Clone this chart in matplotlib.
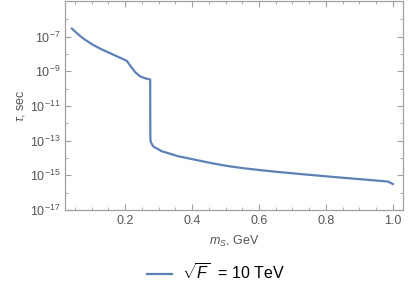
"""
Lifetime of the scalar versus its mass, sqrt(F) = 10 TeV.
"""

import numpy as np
import matplotlib
matplotlib.use("Agg")
import matplotlib.pyplot as plt
from matplotlib.ticker import FixedLocator, NullFormatter

M_S = [0.041, 0.055, 0.066, 0.080, 0.105, 0.130, 0.155, 0.180, 0.205,
       0.215, 0.230, 0.245, 0.260, 0.275,
       0.2752, 0.2755, 0.2765, 0.2797, 0.2845, 0.3096, 0.3591, 0.409,
       0.4588, 0.5084, 0.558, 0.608, 0.670, 0.732, 0.832, 0.931,
       0.985, 1.000]
LOG_TAU = [-6.53, -6.78, -6.96, -7.17, -7.48, -7.73, -7.95, -8.17, -8.39,
           -8.66, -9.04, -9.29, -9.40, -9.47,
           -11.50, -12.85, -13.05, -13.19, -13.34, -13.61, -13.90, -14.10,
           -14.30, -14.47, -14.60, -14.71, -14.83, -14.94, -15.11, -15.27,
           -15.36, -15.50]

Y_MAJOR = [-17, -15, -13, -11, -9, -7]
Y_MINOR = [-16, -14, -12, -10, -8, -6]
X_MAJOR = [0.2, 0.4, 0.6, 0.8, 1.0]

LINE_COLOR = "#5E81B5"
FRAME_COLOR = "#A0A0A0"
TEXT_COLOR = "#555555"


def create_chart() -> None:
    plt.rcParams["font.family"] = ["Liberation Sans", "DejaVu Sans"]
    plt.rcParams["mathtext.fontset"] = "custom"
    plt.rcParams["mathtext.rm"] = "Liberation Sans"
    plt.rcParams["mathtext.it"] = "Liberation Sans:italic"

    fig = plt.figure(figsize=(4.15, 2.97), dpi=100)
    ax = fig.add_axes([0.157, 0.293, 0.814, 0.703])

    tau = 10.0 ** np.array(LOG_TAU)
    ax.plot(M_S, tau, color=LINE_COLOR, lw=1.6,
            label=r"$\sqrt{F}$  = 10 TeV")

    ax.set_yscale("log")
    ax.set_xlim(0.021, 1.03)
    ax.set_ylim(1e-17, 10 ** -4.95)

    ax.yaxis.set_major_locator(FixedLocator([10.0 ** e for e in Y_MAJOR]))
    ax.yaxis.set_minor_locator(FixedLocator([10.0 ** e for e in Y_MINOR]))
    ax.set_yticklabels([r"$10^{%d}$" % e for e in Y_MAJOR])
    ax.yaxis.set_minor_formatter(NullFormatter())

    ax.set_xticks(X_MAJOR)
    ax.set_xticklabels(["%.1f" % v for v in X_MAJOR])
    ax.set_xticks(np.arange(0.05, 1.01, 0.05), minor=True)

    for side in ax.spines.values():
        side.set_color(FRAME_COLOR)
        side.set_linewidth(0.9)

    ax.tick_params(which="both", direction="in", top=True, right=True,
                   color=FRAME_COLOR, labelcolor=TEXT_COLOR, labelsize=9)
    ax.tick_params(which="major", length=4, width=0.8)
    ax.tick_params(which="minor", length=2.5, width=0.6)

    ax.set_xlabel(r"$m_S$, GeV", color=TEXT_COLOR, fontsize=9, labelpad=5)
    ax.set_ylabel(r"$\tau$, sec", color=TEXT_COLOR, fontsize=9, labelpad=2)

    fig.legend(loc="lower center", bbox_to_anchor=(0.52, 0.0), frameon=False,
               fontsize=11.5, handlelength=1.6, handletextpad=0.6)

    fig.savefig("out.png", dpi=100)


if __name__ == "__main__":
    create_chart()
